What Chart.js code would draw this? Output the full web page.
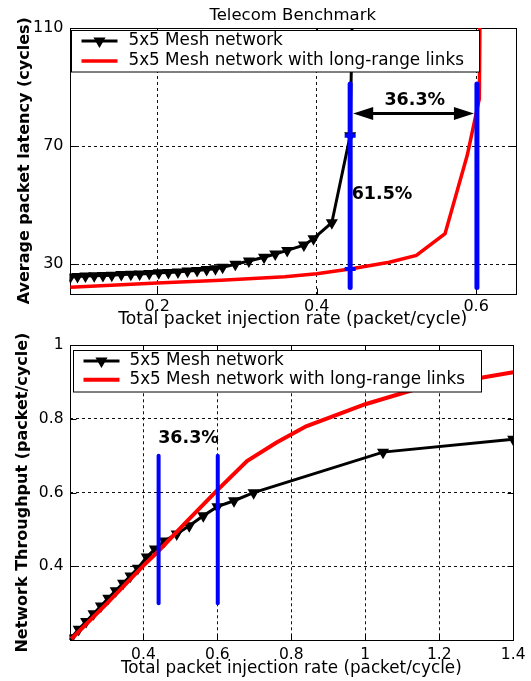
<!DOCTYPE html>
<html>
<head>
<meta charset="utf-8">
<script src="https://cdn.jsdelivr.net/npm/chart.js@4/dist/chart.umd.min.js"></script>
<style>
  html, body { margin: 0; padding: 0; background: #fff; }
  #wrap { position: relative; width: 531px; height: 681px; overflow: hidden; }
  #latency { position: absolute; left: 0; top: 0; }
  #throughput { position: absolute; left: 0; top: 330px; }
</style>
</head>
<body>
<div id="wrap">
  <canvas id="latency" width="531" height="330"></canvas>
  <canvas id="throughput" width="531" height="351"></canvas>
</div>
<script>
// ---- series names ----
const meshName = '5x5 Mesh network';
const longName = '5x5 Mesh network with long-range links';

// ---- Telecom benchmark: average packet latency (cycles) vs injection rate ----
const latMeshRate   = [0.091, 0.100, 0.110, 0.121, 0.132, 0.143, 0.155, 0.167, 0.178, 0.190, 0.202, 0.214, 0.226, 0.238, 0.250, 0.262, 0.273, 0.282, 0.298, 0.315, 0.334, 0.348, 0.363, 0.384, 0.396, 0.419, 0.442, 0.445];
const latMeshCycles = [25.6, 25.8, 25.9, 26.0, 26.1, 26.2, 26.4, 26.5, 26.6, 26.8, 27.0, 27.1, 27.3, 27.6, 27.8, 28.1, 28.4, 28.9, 29.9, 31.0, 32.3, 33.4, 34.6, 36.4, 38.6, 44.0, 73.5, 120];
const latLongRate   = [0.091, 0.200, 0.280, 0.360, 0.400, 0.442, 0.491, 0.525, 0.561, 0.589, 0.600, 0.604, 0.605];
const latLongCycles = [22.1, 23.6, 24.5, 25.7, 26.7, 28.3, 30.6, 32.9, 40.3, 67.0, 81.0, 86.0, 120];
const latTicksX = [0.2, 0.4, 0.6];
const latTicksY = [30, 70, 110];
// saturation markers: injection rates and the latency span of the marker bars
const latMarkRate  = [0.442, 0.601];
const latMarkSpan  = [22, 91];
const latCrossCycles = [73.5, 28.3];   // mesh / long-range latency at the first marker
const latGainLabels = ['36.3%', '61.5%'];

// ---- network throughput (packet/cycle) vs injection rate ----
const thrMeshRate = [0.205, 0.225, 0.245, 0.265, 0.285, 0.305, 0.325, 0.345, 0.365, 0.385, 0.409, 0.431, 0.457, 0.490, 0.524, 0.562, 0.600, 0.645, 0.698, 1.048, 1.400];
const thrMeshPkt  = [0.206, 0.229, 0.250, 0.271, 0.292, 0.313, 0.334, 0.354, 0.374, 0.395, 0.425, 0.447, 0.469, 0.488, 0.510, 0.537, 0.562, 0.578, 0.600, 0.710, 0.745];
const thrLongRate = [0.205, 0.300, 0.400, 0.440, 0.520, 0.600, 0.680, 0.760, 0.840, 1.000, 1.140, 1.400];
const thrLongPkt  = [0.203, 0.298, 0.402, 0.441, 0.525, 0.607, 0.686, 0.736, 0.780, 0.840, 0.882, 0.927];
const thrTicksX = [0.4, 0.6, 0.8, 1.0, 1.2, 1.4];
const thrTicksY = [0.4, 0.6, 0.8, 1.0];
const thrMarkRate = [0.441, 0.601];
const thrMarkSpan = [0.3, 0.7];
const thrGainLabel = '36.3%';

// ---------------------------------------------------------------
const FONT = 'DejaVu Sans';
Chart.defaults.font.family = FONT;
Chart.defaults.color = '#000';

const pts = (xs, ys) => xs.map((x, i) => ({ x, y: ys[i] }));
const fmt = v => String(+Number(v).toFixed(2));

function meshDataset(data, lw, r) {
  return {
    label: meshName, data, showLine: true, order: 2,
    borderColor: '#000', backgroundColor: '#000', borderWidth: lw,
    pointStyle: 'triangle', rotation: 180, pointRadius: r,
    pointBorderWidth: 1.5, pointBorderColor: '#000', pointBackgroundColor: '#000',
    tension: 0
  };
}
function longDataset(data, lw) {
  return {
    label: longName, data, showLine: true, order: 1,
    borderColor: '#ff0000', backgroundColor: '#ff0000', borderWidth: lw,
    pointRadius: 0, tension: 0
  };
}
function barDataset(rate, span, lw) {
  return {
    data: [{ x: rate, y: span[0] }, { x: rate, y: span[1] }],
    showLine: true, order: 0, borderColor: '#0000ff', borderWidth: lw,
    borderCapStyle: 'round', pointRadius: 0
  };
}

// plot frame with inward tick marks on all four sides
const framePlugin = {
  id: 'frame',
  beforeDatasetsDraw(chart) {
    const { ctx, chartArea: a, scales: { x, y } } = chart;
    const L = Math.round(a.left) + 0.5, R = Math.round(a.right) + 0.5;
    const T = Math.round(a.top) + 0.5, B = Math.round(a.bottom) + 0.5;
    const len = 6;
    ctx.save();
    ctx.strokeStyle = '#000';
    ctx.lineWidth = 1;
    ctx.beginPath();
    x.ticks.forEach(t => {
      const p = Math.round(x.getPixelForValue(t.value)) + 0.5;
      ctx.moveTo(p, B); ctx.lineTo(p, B - len);
      ctx.moveTo(p, T); ctx.lineTo(p, T + len);
    });
    y.ticks.forEach(t => {
      const p = Math.round(y.getPixelForValue(t.value)) + 0.5;
      ctx.moveTo(L, p); ctx.lineTo(L + len, p);
      ctx.moveTo(R, p); ctx.lineTo(R - len, p);
    });
    ctx.stroke();
    ctx.strokeRect(L, T, R - L, B - T);
    ctx.restore();
  }
};

// boxed legend inside the plot, drawn above the data
function legendBox(cfg) {
  return {
    id: 'legendBox',
    afterDatasetsDraw(chart) {
      const { ctx, chartArea: a } = chart;
      const L = Math.round(a.left + cfg.dx) + 0.5, T = Math.round(a.top + cfg.dy) + 0.5;
      ctx.save();
      ctx.fillStyle = '#fff';
      ctx.fillRect(L, T, cfg.w, cfg.h);
      ctx.strokeStyle = '#000';
      ctx.lineWidth = 1;
      ctx.strokeRect(L, T, cfg.w, cfg.h);
      const items = chart.data.datasets.filter(d => d.label);
      items.forEach((d, i) => {
        const yy = T + cfg.rows[i];
        const x0 = L + cfg.line[0], x1 = L + cfg.line[1];
        ctx.strokeStyle = d.borderColor;
        ctx.lineWidth = d.borderWidth;
        ctx.beginPath(); ctx.moveTo(x0, yy); ctx.lineTo(x1, yy); ctx.stroke();
        if (d.pointRadius > 0) {
          ctx.fillStyle = d.pointBackgroundColor;
          ctx.strokeStyle = d.pointBorderColor;
          ctx.lineWidth = d.pointBorderWidth;
          Chart.helpers.drawPoint(ctx, { pointStyle: d.pointStyle, rotation: d.rotation, radius: d.pointRadius, borderWidth: d.pointBorderWidth }, (x0 + x1) / 2, yy);
        }
        ctx.fillStyle = '#000';
        ctx.font = cfg.font + 'px "' + FONT + '"';
        ctx.textBaseline = 'middle';
        ctx.textAlign = 'left';
        ctx.fillText(d.label, L + cfg.text, yy);
      });
      ctx.restore();
    }
  };
}

function boldText(ctx, txt, px, py, size) {
  ctx.font = 'bold ' + size + 'px "' + FONT + '"';
  ctx.fillStyle = '#000';
  ctx.textAlign = 'center';
  ctx.textBaseline = 'middle';
  ctx.fillText(txt, px, py);
}

// gain annotations on the latency plot: double arrow between the two bars
const latNotes = {
  id: 'latNotes',
  afterDatasetsDraw(chart) {
    const { ctx, scales: { x, y } } = chart;
    const arrowLevel = 81;
    const xa = x.getPixelForValue(latMarkRate[0]) + 3;
    const xb = x.getPixelForValue(latMarkRate[1]) - 3;
    const ya = y.getPixelForValue(arrowLevel);
    const head = 20, half = 6.5;
    ctx.save();
    ctx.strokeStyle = '#000';
    ctx.fillStyle = '#000';
    ctx.lineWidth = 3;
    ctx.beginPath(); ctx.moveTo(xa + head - 2, ya); ctx.lineTo(xb - head + 2, ya); ctx.stroke();
    ctx.beginPath(); ctx.moveTo(xa, ya); ctx.lineTo(xa + head, ya - half); ctx.lineTo(xa + head, ya + half); ctx.closePath(); ctx.fill();
    ctx.beginPath(); ctx.moveTo(xb, ya); ctx.lineTo(xb - head, ya - half); ctx.lineTo(xb - head, ya + half); ctx.closePath(); ctx.fill();
    boldText(ctx, latGainLabels[0], x.getPixelForValue(0.523), y.getPixelForValue(85.6), 17.5);
    boldText(ctx, latGainLabels[1], x.getPixelForValue(0.482), y.getPixelForValue(53.6), 17.5);
    ctx.restore();
  }
};

const thrNotes = {
  id: 'thrNotes',
  afterDatasetsDraw(chart) {
    const { ctx, scales: { x, y } } = chart;
    ctx.save();
    boldText(ctx, thrGainLabel, x.getPixelForValue(0.522), y.getPixelForValue(0.7465), 17.5);
    ctx.restore();
  }
};

function axes(o) {
  return {
    x: {
      type: 'linear', min: o.xMin, max: o.xMax,
      afterBuildTicks: s => { s.ticks = o.xTicks.map(v => ({ value: v })); },
      afterFit: s => { s.height = o.xHeight; },
      ticks: { callback: fmt, font: { size: o.tickSize }, padding: o.xTickPad, maxRotation: 0, autoSkip: false },
      grid: { color: '#111', lineWidth: 1, drawTicks: false },
      border: { display: false, dash: [3, 3] },
      title: { display: true, text: 'Total packet injection rate (packet/cycle)', font: { size: o.xTitleSize }, padding: { top: 0, bottom: o.xTitlePad } }
    },
    y: {
      type: 'linear', min: o.yMin, max: o.yMax,
      afterBuildTicks: s => { s.ticks = o.yTicks.map(v => ({ value: v })); },
      afterFit: s => { s.width = 69.5; },
      ticks: { callback: fmt, font: { size: o.tickSize }, padding: 6, autoSkip: false },
      grid: { color: '#111', lineWidth: 1, drawTicks: false },
      border: { display: false, dash: [3, 3] },
      title: { display: true, text: o.yTitle, font: { size: 16, weight: 'bold' }, padding: { top: o.yTitlePad, bottom: 0 } }
    }
  };
}

new Chart(document.getElementById('latency'), {
  type: 'scatter',
  data: {
    datasets: [
      barDataset(latMarkRate[0], latMarkSpan, 5),
      barDataset(latMarkRate[1], latMarkSpan, 5),
      {
        data: latCrossCycles.map(v => ({ x: latMarkRate[0], y: v })),
        order: 0, showLine: false, pointStyle: 'line', pointRadius: 5.5,
        pointBorderWidth: 4, pointBorderColor: '#0000ff', pointBackgroundColor: '#0000ff'
      },
      meshDataset(pts(latMeshRate, latMeshCycles), 3, 5.5),
      longDataset(pts(latLongRate, latLongCycles), 3.5)
    ]
  },
  options: {
    responsive: false, animation: false, events: [],
    layout: { padding: { left: 0, right: 15, top: 0, bottom: 0 } },
    plugins: {
      legend: { display: false }, tooltip: { enabled: false },
      title: { display: true, text: 'Telecom Benchmark', fullSize: false, color: '#000',
               font: { size: 16.5, weight: 'normal' }, padding: { top: 6, bottom: 2.2 } }
    },
    scales: axes({
      xMin: 0.09, xMax: 0.65, yMin: 20, yMax: 110, xTicks: latTicksX, yTicks: latTicksY,
      tickSize: 16, xTickPad: 4, xHeight: 36.5, xTitleSize: 17.2, xTitlePad: 0,
      yTitle: 'Average packet latency (cycles)', yTitlePad: 15.4
    })
  },
  plugins: [framePlugin, legendBox({ dx: 1.5, dy: 1.5, w: 408, h: 41.5, rows: [10.5, 30.5], line: [10, 46], text: 57, font: 16.8 }), latNotes]
});

new Chart(document.getElementById('throughput'), {
  type: 'scatter',
  data: {
    datasets: [
      barDataset(thrMarkRate[0], thrMarkSpan, 4),
      barDataset(thrMarkRate[1], thrMarkSpan, 4),
      meshDataset(pts(thrMeshRate, thrMeshPkt), 3, 5.5),
      longDataset(pts(thrLongRate, thrLongPkt), 4)
    ]
  },
  options: {
    responsive: false, animation: false, events: [],
    layout: { padding: { left: 0, right: 15, top: 11.7, bottom: 0 } },
    plugins: { legend: { display: false }, tooltip: { enabled: false } },
    scales: axes({
      xMin: 0.2, xMax: 1.4, yMin: 0.2, yMax: 1.0, xTicks: thrTicksX, yTicks: thrTicksY,
      tickSize: 15.5, xTickPad: 5.5, xHeight: 41, xTitleSize: 16.8, xTitlePad: 2,
      yTitle: 'Network Throughput (packet/cycle)', yTitlePad: 13.4
    })
  },
  plugins: [framePlugin, legendBox({ dx: 3.5, dy: 5, w: 408, h: 41.5, rows: [10.6, 29.3], line: [10, 46], text: 56, font: 16.8 }), thrNotes]
});
</script>
</body>
</html>
